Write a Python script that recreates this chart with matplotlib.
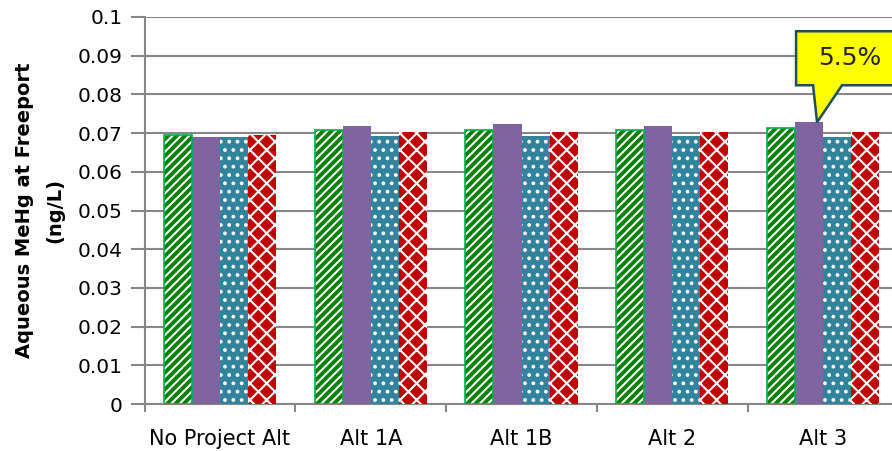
import matplotlib
matplotlib.use("Agg")
import matplotlib.pyplot as plt
import matplotlib.transforms as mtransforms
from matplotlib.patches import Polygon
from matplotlib.ticker import FuncFormatter
import numpy as np

# data
categories = ["No Project Alt", "Alt 1A", "Alt 1B", "Alt 2", "Alt 3"]
series_green = [0.0695, 0.0708, 0.0708, 0.0708, 0.0713]
series_purple = [0.0690, 0.0719, 0.0723, 0.0719, 0.0728]
series_teal = [0.0690, 0.0692, 0.0692, 0.0692, 0.0691]
series_red = [0.0695, 0.0703, 0.0703, 0.0703, 0.0703]
callout_text = "5.5%"
callout_series = 1       # purple
callout_category = 4     # Alt 3

GREEN = "#008000"
GREEN_EDGE = "#00B050"
PURPLE = "#8064A2"
TEAL = "#31849B"
RED = "#C00000"
GRID = "#878787"

plt.rcParams["font.family"] = ["DejaVu Sans"]
plt.rcParams["hatch.color"] = "white"
plt.rcParams["hatch.linewidth"] = 1.5

fig = plt.figure(figsize=(8.92, 4.51), dpi=100)
ax = fig.add_axes([144.5 / 892, 47 / 451, 754 / 892, 387 / 451])

x = np.arange(len(categories))
w = 0.186
offsets = [-1.5 * w, -0.5 * w, 0.5 * w, 1.5 * w]

# hatched bars: no edge colour so the hatch stays white
ax.bar(x + offsets[0], series_green, w, color=GREEN, hatch="////", zorder=3)
ax.bar(x + offsets[0], series_green, w, fill=False, edgecolor=GREEN_EDGE,
       linewidth=1.2, zorder=4)
ax.bar(x + offsets[1], series_purple, w, color=PURPLE, zorder=3)
ax.bar(x + offsets[2], series_teal, w, color=TEAL, hatch="..", zorder=3)
ax.bar(x + offsets[3], series_red, w, color=RED, hatch="xx", zorder=3)

ax.set_xlim(-0.5, len(categories) - 0.5)
ax.set_ylim(0, 0.1)
ax.set_yticks(np.arange(0, 0.1001, 0.01))
ax.yaxis.set_major_formatter(FuncFormatter(lambda v, p: f"{round(v, 2):g}"))
ax.set_xticks(x)
ax.set_xticklabels(categories, fontsize=15)
ax.set_xticks(np.arange(-0.5, len(categories), 1), minor=True)
ax.tick_params(axis="x", which="major", length=0, pad=18)
ax.tick_params(axis="x", which="minor", length=6, width=1.5, color=GRID,
               direction="out")
ax.tick_params(axis="y", labelsize=14.5, length=10, width=1.5, color=GRID,
               direction="out", pad=6)
ax.grid(axis="y", color=GRID, linewidth=1.5, zorder=0)
ax.set_axisbelow(True)
for side in ["top", "right"]:
    ax.spines[side].set_visible(False)
for side in ["left", "bottom"]:
    ax.spines[side].set_color(GRID)
    ax.spines[side].set_linewidth(1.5)

ax.set_ylabel("Aqueous MeHg at Freeport\n(ng/L)", fontsize=14,
              fontweight="bold", linespacing=1.8)
ax.yaxis.set_label_coords(-0.106, 0.5)

# callout pointing at the Alt 3 purple bar
tip_x = x[callout_category] + offsets[callout_series] + 0.053
tip_y = series_purple[callout_category]
trans = fig.dpi_scale_trans + mtransforms.ScaledTranslation(tip_x, tip_y, ax.transData)
verts = np.array([(-21, 37), (-4, 37), (0, 0), (25, 37), (95, 37),
                  (95, 91), (-21, 91)]) / 100.0
ax.add_patch(Polygon(verts, closed=True, facecolor="#FFFF00",
                     edgecolor="#1F4E5F", linewidth=1.8, transform=trans,
                     clip_on=False, zorder=6))
ax.text(0.33, 0.64, callout_text, transform=trans, ha="center", va="center",
        fontsize=18, color="#262626", zorder=7)

fig.savefig("out.png", dpi=100)
